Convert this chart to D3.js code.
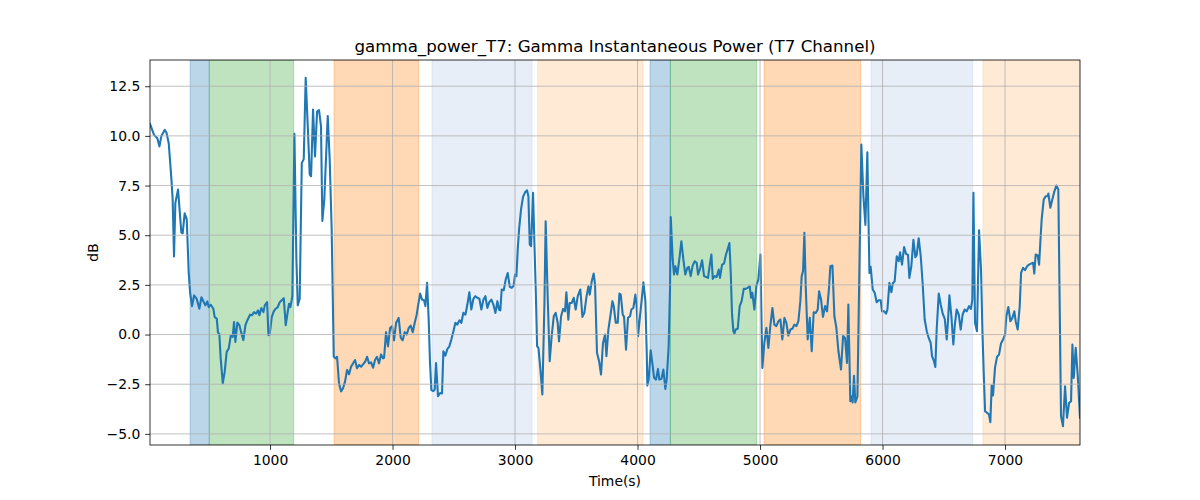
<!DOCTYPE html>
<html>
<head>
<meta charset="utf-8">
<script src="https://cdn.jsdelivr.net/npm/d3@7"></script>
<style>
  html, body { margin: 0; padding: 0; background: #fff; }
  svg { display: block; }
  text { font-family: "DejaVu Sans", sans-serif; fill: #000; }
</style>
</head>
<body>
<div id="chart"></div>
<script>
// ---- data ----
const chartTitle = "gamma_power_T7: Gamma Instantaneous Power (T7 Channel)";
const xLabel = "Time(s)";
const yLabel = "dB";

const timeS = [
  20,53,80,97,113,140,154,173,195,205,216,227,249,276,287,303,320,336,347,363,
  380,401,423,440,456,472,488,499,516,537,548,565,575,586,597,614,630,646,663,679,
  695,706,717,733,750,760,782,799,815,837,853,869,886,902,913,929,946,957,976,987,
  997,1014,1030,1046,1063,1079,1095,1112,1128,1144,1155,1166,1182,1199,1215,1226,1242,1259,1275,1291,
  1308,1324,1335,1351,1367,1384,1400,1416,1427,1443,1471,1487,1503,1520,1536,1547,1563,1580,1596,1612,
  1629,1645,1661,1678,1694,1710,1727,1743,1759,1776,1792,1808,1825,1841,1857,1873,1890,1906,1922,1931,
  1947,1963,1980,1996,2012,2029,2050,2067,2083,2099,2116,2132,2148,2165,2181,2197,2208,2225,2241,2257,
  2268,2282,2295,2306,2317,2333,2344,2355,2371,2388,2404,2415,2431,2448,2464,2480,2497,2513,2529,2546,
  2562,2578,2595,2611,2627,2643,2660,2676,2692,2709,2725,2742,2758,2774,2790,2807,2823,2840,2856,2869,
  2880,2891,2908,2924,2940,2957,2973,2989,3000,3011,3022,3033,3049,3065,3082,3098,3109,3120,3131,3147,
  3158,3169,3180,3191,3207,3223,3240,3250,3267,3283,3299,3316,3332,3348,3359,3376,3392,3408,3419,3435,
  3446,3463,3479,3495,3512,3533,3550,3566,3582,3599,3610,3626,3642,3653,3669,3686,3702,3718,3735,3746,
  3762,3778,3795,3806,3822,3838,3852,3863,3879,3890,3906,3922,3939,3950,3966,3982,3993,4004,4020,4037,
  4048,4064,4075,4080,4091,4107,4124,4135,4151,4167,4178,4195,4211,4227,4238,4254,4265,4271,4287,4298,
  4309,4325,4341,4358,4374,4390,4407,4418,4434,4450,4467,4483,4494,4510,4527,4543,4559,4575,4592,4603,
  4614,4630,4646,4663,4673,4690,4706,4722,4739,4750,4761,4771,4782,4791,4801,4818,4834,4850,4867,4883,
  4899,4916,4927,4937,4954,4970,4986,5003,5019,5035,5052,5068,5084,5101,5117,5133,5150,5166,5182,5199,
  5215,5231,5248,5264,5280,5297,5313,5329,5340,5351,5362,5373,5389,5406,5422,5438,5455,5471,5482,5498,
  5514,5531,5547,5563,5574,5591,5607,5623,5640,5661,5678,5694,5710,5721,5737,5746,5756,5767,5778,5795,
  5811,5827,5844,5860,5876,5893,5903,5920,5936,5952,5969,5985,5996,6012,6029,6040,6056,6072,6083,6099,
  6116,6132,6143,6159,6176,6192,6208,6219,6235,6252,6268,6279,6295,6312,6328,6344,6361,6377,6393,6404,
  6420,6431,6442,6459,6475,6491,6508,6524,6535,6546,6562,6578,6589,6605,6622,6638,6654,6671,6687,6706,
  6722,6733,6742,6755,6771,6788,6804,6815,6826,6837,6853,6869,6880,6891,6902,6918,6935,6951,6967,6984,
  7000,7011,7027,7044,7060,7076,7087,7103,7120,7131,7147,7163,7180,7196,7212,7229,7239,7250,7267,7278,
  7288,7299,7316,7332,7348,7354,7370,7386,7403,7419,7435,7446,7457,7473,7490,7506,7523,7539,7550,7561,
  7577,7594,7612
];

const gammaDb = [
  10.6,10.05,9.88,9.47,10.0,10.3,10.17,9.63,7.8,6.8,3.93,6.63,7.3,5.13,5.1,6.1,5.8,3.13,2.13,1.43,
  1.97,1.8,1.3,1.88,1.67,1.47,1.67,1.38,1.5,1.3,0.88,0.8,0.1,0.03,-1.2,-2.45,-1.87,-0.87,-0.7,-0.07,
  -0.12,0.63,-0.37,0.6,0.47,0.22,-0.28,0.47,0.72,1.0,0.97,1.13,1.05,1.22,0.97,1.33,1.13,1.47,1.63,-0.03,
  0.0,0.88,1.17,1.3,1.38,1.63,1.72,1.83,0.47,1.13,1.55,1.38,1.93,10.1,3.8,1.47,1.8,8.63,8.83,12.93,
  10.47,8.05,7.97,11.33,8.97,11.22,11.3,10.47,5.72,6.8,11.0,8.8,5.3,-1.12,-1.2,-1.12,-2.45,-2.87,-2.7,-2.37,
  -1.78,-2.0,-1.62,-1.45,-1.28,-1.7,-1.53,-1.62,-1.5,-1.37,-1.12,-1.45,-1.4,-1.67,-1.28,-1.12,-1.45,-1.0,-1.2,-1.17,
  0.12,-0.59,0.33,0.42,-0.29,0.59,0.84,-0.17,-0.29,0.12,0.0,0.33,0.45,0.12,0.59,1.0,1.43,2.06,1.76,1.73,
  1.43,2.6,0.75,-1.43,-2.8,-2.85,-2.77,-1.43,-3.1,-2.94,-2.97,-0.84,-1.06,-0.72,-0.59,-0.25,0.17,0.59,0.5,0.72,
  0.59,1.09,1.0,1.51,2.13,1.26,1.8,1.93,1.85,1.8,1.26,1.76,1.93,1.34,1.63,1.76,1.51,1.09,1.68,1.26,
  1.22,2.27,2.23,2.77,3.1,2.4,2.35,2.47,3.02,2.94,4.28,5.29,6.3,6.93,7.16,7.26,6.96,4.53,4.45,7.13,
  4.61,2.27,-0.59,-0.67,-1.76,-3.02,1.59,5.7,1.76,-1.34,-0.08,0.92,1.09,0.59,-0.34,0.92,1.29,1.17,2.13,0.75,
  1.59,1.59,1.85,1.26,1.93,2.27,0.89,1.1,1.85,2.43,2.01,2.68,3.07,2.52,-0.92,-1.34,-2.01,-0.42,0.0,-1.09,
  0.25,0.92,1.68,1.43,0.59,0.59,2.06,2.01,1.01,0.89,-0.76,0.84,0.92,1.26,1.34,2.01,1.43,-0.08,0.92,1.93,
  2.63,1.68,-0.92,-2.57,-2.27,-0.79,-1.59,-2.18,-2.27,-1.73,-2.27,-2.23,-1.76,-2.74,-2.27,-0.59,2.27,5.92,3.78,3.02,
  3.44,3.02,3.78,4.7,3.78,3.02,3.36,3.41,2.94,3.47,3.69,3.61,3.02,3.31,3.74,2.94,2.9,2.85,3.61,4.03,
  2.8,2.94,2.9,3.27,2.85,3.52,3.57,4.03,4.36,4.61,3.1,1.09,0.17,0.05,0.25,0.29,1.43,1.68,2.3,2.3,
  2.35,2.43,1.85,2.1,1.26,2.43,2.77,4.03,-1.68,-0.42,0.34,-0.67,0.42,1.34,0.5,0.42,0.67,0.76,-0.25,0.84,
  0.59,-0.05,0.25,0.29,0.5,0.42,0.67,1.68,2.94,3.19,5.12,2.43,-0.25,0.84,-0.84,1.12,1.09,1.26,2.18,1.76,
  0.89,1.43,1.17,2.35,3.44,3.47,0.92,0.34,-0.84,-1.76,-0.08,-0.17,-1.43,1.51,-3.36,-3.12,-3.42,-2.08,-3.42,-3.12,
  3.27,9.56,6.96,5.52,9.18,3.1,3.41,2.27,2.1,1.63,1.73,1.73,1.17,1.17,1.05,1.26,2.6,2.13,2.57,2.68,
  3.94,3.69,4.14,3.52,4.4,4.06,4.01,2.85,3.44,4.77,3.89,4.01,4.85,3.94,2.52,0.76,0.17,-0.17,-0.42,-1.09,
  -1.34,-1.63,0.25,2.06,1.51,1.05,0.79,-0.25,0.76,1.97,0.92,-0.5,0.42,1.26,1.01,0.25,1.01,1.26,1.17,1.43,
  1.29,1.76,7.13,0.59,0.17,5.25,3.27,0.25,-1.93,-3.86,-3.94,-4.03,-4.41,-2.57,-3.07,-1.68,-1.12,-1.01,-0.45,-0.25,
  0.0,0.92,1.39,0.67,0.84,1.17,0.67,0.25,1.43,3.1,3.36,3.24,3.44,3.52,3.57,3.61,3.07,4.03,3.98,3.52,
  4.61,5.79,6.8,6.96,6.96,7.1,6.38,6.8,7.21,7.5,7.3,1.59,-4.11,-4.61,-2.6,-4.19,-3.44,-3.36,-0.5,-2.18,
  -0.67,-2.1,-4.19
];

// shaded intervals (start, end, state)
const spanStart = [347, 504, 1522, 2322, 3185, 4102, 4268, 5033, 5906, 6820];
const spanEnd   = [504, 1193, 2214, 3139, 4045, 4268, 4973, 5822, 6736, 7612];
const spanState = ["s0","s1","s2","s3","s4","s0","s1","s2","s3","s4"];

const xTicks = [1000, 2000, 3000, 4000, 5000, 6000, 7000];
const yTicks = [-5.0, -2.5, 0.0, 2.5, 5.0, 7.5, 10.0, 12.5];
const xDomain = [20, 7612];
const yDomain = [-5.56, 13.82];

// ---- drawing ----
const W = 1200, H = 500;
const m = { left: 150, right: 1080, top: 60, bottom: 445 };

const svg = d3.select("#chart").append("svg").attr("width", W).attr("height", H);

const x = d3.scaleLinear().domain(xDomain).range([m.left, m.right]);
const y = d3.scaleLinear().domain(yDomain).range([m.bottom, m.top]);

const stateColor = d3.scaleOrdinal()
  .domain(["s0","s1","s2","s3","s4"])
  .range(["#1f77b4", "#2ca02c", "#ff7f0e", "#aec7e8", "#ffbb78"]);

const clip = svg.append("defs").append("clipPath").attr("id", "clip")
  .append("rect").attr("x", m.left).attr("y", m.top)
  .attr("width", m.right - m.left).attr("height", m.bottom - m.top);

const plot = svg.append("g").attr("clip-path", "url(#clip)");

// spans
plot.append("g").selectAll("rect")
  .data(spanStart.map((s, i) => ({ s, e: spanEnd[i], k: spanState[i] })))
  .join("rect")
  .attr("x", d => x(d.s))
  .attr("width", d => x(d.e) - x(d.s))
  .attr("y", m.top)
  .attr("height", m.bottom - m.top)
  .attr("fill", d => stateColor(d.k))
  .attr("fill-opacity", 0.3)
  .attr("stroke", d => stateColor(d.k))
  .attr("stroke-opacity", 0.3)
  .attr("stroke-width", 1);

// grid
const grid = svg.append("g");
grid.selectAll(".gx").data(xTicks).join("line")
  .attr("x1", d => x(d)).attr("x2", d => x(d))
  .attr("y1", m.top).attr("y2", m.bottom)
  .attr("stroke", "#b0b0b0").attr("stroke-width", 0.8);
grid.selectAll(".gy").data(yTicks).join("line")
  .attr("y1", d => y(d)).attr("y2", d => y(d))
  .attr("x1", m.left).attr("x2", m.right)
  .attr("stroke", "#b0b0b0").attr("stroke-width", 0.8);

// line
const pts = timeS.map((t, i) => [t, gammaDb[i]]);
plot.append("path")
  .datum(pts)
  .attr("fill", "none")
  .attr("stroke", "#1f77b4")
  .attr("stroke-width", 2.08)
  .attr("stroke-linejoin", "round")
  .attr("stroke-linecap", "square")
  .attr("d", d3.line().x(d => x(d[0])).y(d => y(d[1])));

// axes
const xAxis = d3.axisBottom(x).tickValues(xTicks).tickFormat(d3.format("d"))
  .tickSizeInner(4.86).tickSizeOuter(0).tickPadding(4.86);
const yAxis = d3.axisLeft(y).tickValues(yTicks).tickFormat(d3.format(".1f"))
  .tickSizeInner(4.86).tickSizeOuter(0).tickPadding(4.86);

const gx = svg.append("g").attr("transform", `translate(0,${m.bottom})`).call(xAxis);
const gy = svg.append("g").attr("transform", `translate(${m.left},0)`).call(yAxis);
[gx, gy].forEach(g => {
  g.select(".domain").remove();
  g.selectAll(".tick line").attr("stroke", "#000").attr("stroke-width", 0.8);
  g.selectAll(".tick text").attr("font-family", "DejaVu Sans").attr("font-size", "13.9px").attr("fill", "#000");
});

// frame
svg.append("rect")
  .attr("x", m.left).attr("y", m.top)
  .attr("width", m.right - m.left).attr("height", m.bottom - m.top)
  .attr("fill", "none").attr("stroke", "#000").attr("stroke-width", 0.8);

// labels
svg.append("text")
  .attr("x", (m.left + m.right) / 2).attr("y", 51.7)
  .attr("text-anchor", "middle").attr("font-size", "16.67px")
  .text(chartTitle);
svg.append("text")
  .attr("x", (m.left + m.right) / 2).attr("y", 486)
  .attr("text-anchor", "middle").attr("font-size", "13.9px")
  .text(xLabel);
svg.append("text")
  .attr("transform", `translate(98,${(m.top + m.bottom) / 2}) rotate(-90)`)
  .attr("text-anchor", "middle").attr("font-size", "13.9px")
  .text(yLabel);
</script>
</body>
</html>
